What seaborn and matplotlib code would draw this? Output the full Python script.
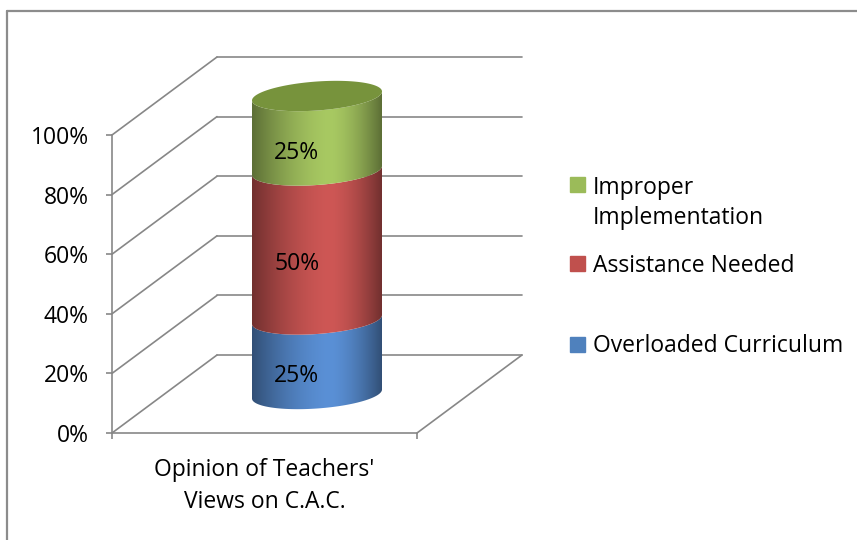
import matplotlib
matplotlib.use("Agg")
import matplotlib.pyplot as plt
import numpy as np
import seaborn as sns
from matplotlib.lines import Line2D
from matplotlib.patches import Polygon, Rectangle

# data (stacked bottom -> top)
categories = ["Overloaded Curriculum", "Assistance Needed", "Improper Implementation"]
legend_labels = ["Overloaded Curriculum", "Assistance Needed", "Improper\nImplementation"]
shares = [25, 50, 25]
bar_label = "Opinion of Teachers'\nViews on C.A.C."
y_ticks = [0, 20, 40, 60, 80, 100]
base_colors = ["#4F81BD", "#C0504D", "#9BBB59"]
light_colors = ["#5A90D6", "#CE5755", "#A8C962"]
top_color = "#77933C"
grid_color = "#878787"
FS = 16.5

sns.set_style("white")
plt.rcParams["font.family"] = ["Open Sans", "DejaVu Sans"]
plt.rcParams["text.color"] = "black"
plt.rcParams["axes.labelcolor"] = "black"

W, H = 857, 540
fig = plt.figure(figsize=(W / 100, H / 100), dpi=100)
ax = fig.add_axes([112 / W, 107 / H, 305 / W, 298 / H])
ax.set_xlim(-0.5, 0.5)
ax.set_ylim(0, 100)

# oblique projection of depth, in data units (one full depth of the plot box)
DX = 105 / 305
DY = 78 / 2.98


def proj(x, v, d):
    return x + d * DX, v + d * DY


# back wall and side wall gridlines
for v in y_ticks:
    x0, y0 = proj(-0.5, v, 1)
    x1, y1 = proj(0.5, v, 1)
    ax.plot([x0, x1], [y0, y1], color=grid_color, lw=1.2, clip_on=False, zorder=1)
    x0, y0 = proj(-0.5, v, 0)
    x1, y1 = proj(-0.5, v, 1)
    ax.plot([x0, x1], [y0, y1], color=grid_color, lw=1.2, clip_on=False, zorder=1)
x0, y0 = proj(0.5, 0, 0)
x1, y1 = proj(0.5, 0, 1)
ax.plot([x0, x1], [y0, y1], color=grid_color, lw=1.2, clip_on=False, zorder=1)

# axes look
sns.despine(ax=ax)
for s in ["left", "bottom"]:
    ax.spines[s].set_color(grid_color)
    ax.spines[s].set_linewidth(1.2)
ax.set_yticks(y_ticks)
ax.set_yticklabels([f"{v}%" for v in y_ticks])
ax.set_xticks([-0.5, 0.5])
ax.set_xticklabels(["", ""])
ax.tick_params(left=True, bottom=True, length=4.3, width=1.2, color=grid_color,
               labelsize=FS, labelcolor="black")
ax.tick_params(axis="y", pad=12.5)
ax.set_xlabel(bar_label, fontsize=FS, linespacing=1.42, labelpad=10.5, color="black")

# cylinder
a = 65 / 305
b = 14.5 / 2.98
tilt = 4.5 / 2.98
cx, cy = proj(0, 0, 0.5)


def arc(v, t):
    return cx + a * np.cos(t), v + cy + b * np.sin(t) + tilt * np.cos(t)


def shade(u):
    peak = 0.6
    s = np.where(u < peak, (peak - u) / peak, (u - peak) / (1 - peak))
    return 1 - 0.45 * s ** 1.6


t_front = np.linspace(np.pi, 2 * np.pi, 200)
bottoms = np.cumsum([0] + shares[:-1])
tops = np.cumsum(shares)
u = np.linspace(0, 1, 256)
k = shade(u)

for lo, hi, col in zip(bottoms, tops, light_colors):
    xs_lo, ys_lo = arc(lo, t_front)
    xs_hi, ys_hi = arc(hi, t_front[::-1])
    poly = Polygon(np.column_stack([np.concatenate([xs_lo, xs_hi]),
                                    np.concatenate([ys_lo, ys_hi])]),
                   closed=True, facecolor="none", edgecolor="none")
    ax.add_patch(poly)
    rgb = np.array(matplotlib.colors.to_rgb(col))
    img = np.clip(rgb[None, None, :] * k[None, :, None], 0, 1)
    im = ax.imshow(img, extent=[cx - a, cx + a, ys_lo.min() - 1, ys_hi.max() + 1],
                   aspect="auto", origin="lower", interpolation="bilinear", zorder=3)
    im.set_clip_path(poly)
    im.set_clip_box(fig.bbox)

t_full = np.linspace(0, 2 * np.pi, 300)
xs_top, ys_top = arc(tops[-1], t_full)
ax.add_patch(Polygon(np.column_stack([xs_top, ys_top]), closed=True,
                     facecolor=top_color, edgecolor="none", zorder=4, clip_on=False))

for lo, hi, val in zip(bottoms, tops, shares):
    x, y = proj(0.02, (lo + hi) / 2, 0.25)
    ax.text(x, y, f"{val}%", ha="center", va="center", fontsize=FS, zorder=5,
            color="black")

ax.set_xlim(-0.5, 0.5)
ax.set_ylim(0, 100)

# legend (top entry is the last series)
legend_y = [344, 263, 185]
for lab, col, yc in zip(legend_labels, base_colors, legend_y):
    fig.add_artist(Rectangle((570 / W, 1 - (yc + 7.5) / H), 15 / W, 15 / H,
                             transform=fig.transFigure, color=col))
    fig.text(593 / W, 1 - (yc - 9.5) / H, lab, ha="left", va="top", fontsize=FS,
             linespacing=1.36, color="black")

# chart border
fig.add_artist(Line2D([7 / W, 7 / W], [0, 1 - 11 / H], transform=fig.transFigure,
                      color="#8c8c8c", lw=1.6))
fig.add_artist(Line2D([7 / W, 1], [1 - 11 / H, 1 - 11 / H], transform=fig.transFigure,
                      color="#8c8c8c", lw=1.6))

fig.savefig("out.png", dpi=100)
